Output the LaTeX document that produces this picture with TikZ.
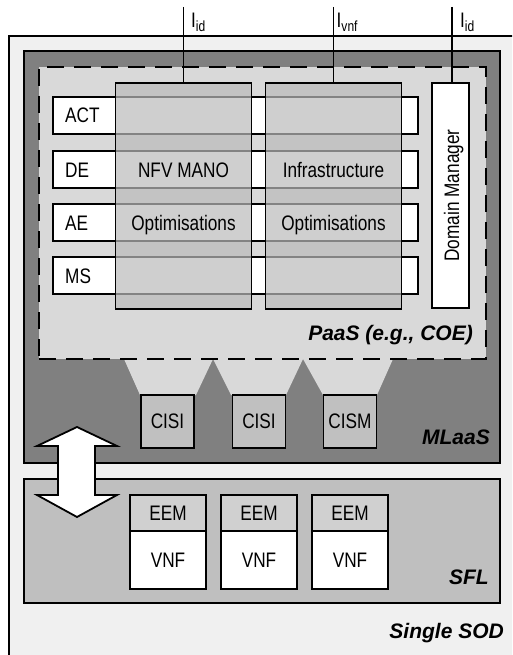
\documentclass[tikz,border=0pt]{standalone}
\usepackage{fontspec}
\setmainfont{Liberation Sans}[FakeStretch=0.82]
\newfontfamily\lblfont{Liberation Sans}
\definecolor{sodbg}{HTML}{F0F0F0}
\definecolor{mlaascol}{HTML}{808080}
\definecolor{paascol}{HTML}{D9D9D9}
\definecolor{colfill}{HTML}{BBBBBB}
\definecolor{cisicol}{HTML}{C0C0C0}
\definecolor{sflcol}{HTML}{BFBFBF}
\definecolor{eemcol}{HTML}{D0D0D0}
\begin{document}
\begin{tikzpicture}[x=1pt,y=-1pt,
  every node/.style={font=\fontsize{21}{25}\selectfont},
  box/.style={draw, line width=1.6pt, inner sep=0pt, outer sep=0pt},
  rowbox/.style={box, fill=white, minimum width=365pt, minimum height=37pt},
  colbox/.style={box, fill=colfill, fill opacity=0.7, text opacity=1, minimum width=136pt, minimum height=226pt},
  cisibox/.style={box, fill=cisicol, minimum width=53pt, minimum height=53pt},
  eembox/.style={box, fill=eemcol, minimum width=76pt, minimum height=36pt},
  vnfbox/.style={box, fill=white, minimum width=76pt, minimum height=58pt},
  txt/.style={inner sep=0pt, anchor=base},
  rowtxt/.style={inner sep=0pt, anchor=base west},
  lbl/.style={font=\lblfont\bfseries\itshape\fontsize{21}{25}\selectfont, inner sep=0pt, anchor=base east},
  trap/.style={fill=paascol},
  iface/.style={line width=1.5pt},
  bigarrow/.style={draw, fill=white, line width=1.8pt, line join=miter}
]
\useasboundingbox (0,0) rectangle (512,655);
\clip (0,0) rectangle (512,655);
% Single SOD
\fill[sodbg] (9,36) rectangle (520,665);
\draw[line width=1.8pt] (9,665) -- (9,36) -- (520,36);
% MLaaS
\node[box, line width=1.8pt, fill=mlaascol, minimum width=476pt, minimum height=412pt] (mlaas) at (262,257) {};
% trapezoids
\fill[trap] (124,359) -- (213,359) -- (196,395) -- (140,395) -- cycle;
\fill[trap] (213,359) -- (303,359) -- (286,395) -- (231,395) -- cycle;
\fill[trap] (303,359) -- (393,359) -- (377,395) -- (323,395) -- cycle;
% PaaS
\node[draw, fill=paascol, line width=2.8pt, dash pattern=on 17pt off 10pt, inner sep=0pt, minimum width=447pt, minimum height=292pt] (paas) at (262.5,213) {};
% rows
\node[rowbox] (ract) at (235.5,115.5) {};
\node[rowbox] (rde) at (235.5,169.5) {};
\node[rowbox] (rae) at (235.5,222.5) {};
\node[rowbox] (rms) at (235.5,275.5) {};
\node[rowtxt] at (65,123) {ACT};
\node[rowtxt] at (65,177) {DE};
\node[rowtxt] at (65,230) {AE};
\node[rowtxt] at (65,283) {MS};
% columns
\node[colbox] (mano) at (183.5,196) {};
\node[colbox] (infra) at (333.5,196) {};
\node[txt] at (183.5,177) {NFV MANO};
\node[txt] at (183.5,230) {Optimisations};
\node[txt] at (333.5,177) {Infrastructure};
\node[txt] at (333.5,230) {Optimisations};
% Domain manager
\node[box, fill=white, minimum width=37pt, minimum height=225pt] (dm) at (450.5,195.5) {};
\node[txt, rotate=90] at (459,195.5) {Domain Manager};
% CISI
\node[cisibox] (c1) at (167.5,421.5) {CISI};
\node[cisibox] (c2) at (259,421.5) {CISI};
\node[cisibox] (c3) at (350,421.5) {CISM};
% SFL
\node[box, line width=1.8pt, fill=sflcol, minimum width=476pt, minimum height=124pt] (sfl) at (262,541) {};
\node[eembox] (e1) at (168,513) {EEM};
\node[eembox] (e2) at (259,513) {EEM};
\node[eembox] (e3) at (350,513) {EEM};
\node[vnfbox, anchor=north] (v1) at (e1.south) {VNF};
\node[vnfbox, anchor=north] (v2) at (e2.south) {VNF};
\node[vnfbox, anchor=north] (v3) at (e3.south) {VNF};
% double arrow
\draw[bigarrow] (77,427) -- (117,446) -- (95,446) -- (95,495) -- (117,495) -- (77,517) -- (37,495) -- (58,495) -- (58,446) -- (37,446) -- cycle;
% interfaces
\coordinate (t1) at (183.5,7);
\coordinate (t2) at (333.5,7);
\coordinate (t3) at (452,7);
\draw[iface] (t1) -- (mano.north);
\draw[iface] (t2) -- (infra.north);
\draw[iface] (t3) -- (t3 |- dm.north);
\node[rowtxt] at (191,28) {I\textsubscript{id}};
\node[rowtxt] at (336.5,28) {I\textsubscript{vnf}};
\node[rowtxt] at (460,28) {I\textsubscript{id}};
% layer labels
\node[lbl] at (473,340) {PaaS (e.g., COE)};
\node[lbl] at (490,444.5) {MLaaS};
\node[lbl] at (489,584.5) {SFL};
\node[lbl] at (504,638.5) {Single SOD};
\end{tikzpicture}
\end{document}
